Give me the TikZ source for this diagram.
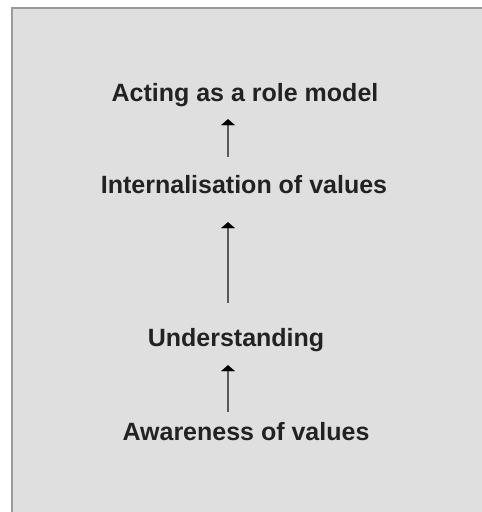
\documentclass[tikz,border=0pt]{standalone}
\usepackage{fontspec}
\setmainfont{Liberation Sans}
\usetikzlibrary{arrows.meta}
\definecolor{panel}{HTML}{DFDFDF}
\definecolor{edge}{HTML}{9A9A9A}
\definecolor{ink}{HTML}{222222}
\definecolor{shaft}{HTML}{5A5A5A}
\tikzset{
  txtlbl/.style={inner sep=0pt, anchor=base, text height=18pt, text depth=5pt,
    font=\fontsize{25}{30}\selectfont\bfseries, text=ink},
  uparrow/.style={draw=shaft, line width=2.4pt,
    -{Triangle[width=14pt,length=6pt,color=black,fill=black,line width=0.3pt]}}
}
\begin{document}
\begin{tikzpicture}[x=1pt,y=1pt]
\useasboundingbox (0,0) rectangle (482,512);
\fill[white] (0,0) rectangle (482,512);
\fill[panel] (11,0) rectangle (482,505);
\draw[edge, line width=2pt] (12,0) -- (12,504) -- (482,504);
\coordinate (ax) at (228,0);
\node[txtlbl] (act) at (245,410) {Acting as a role model};
\node[txtlbl] (int) at (244,318) {Internalisation of values};
\node[txtlbl] (und) at (236,165) {Understanding};
\node[txtlbl] (awa) at (246,71) {Awareness of values};
\draw[uparrow, shorten <=19pt, shorten >=12pt] (int.north -| ax) -- (act.south -| ax);
\draw[uparrow, shorten <=26pt, shorten >=23pt] (und.north -| ax) -- (int.south -| ax);
\draw[uparrow, shorten <=11pt, shorten >=13pt] (awa.north -| ax) -- (und.south -| ax);
\end{tikzpicture}
\end{document}
